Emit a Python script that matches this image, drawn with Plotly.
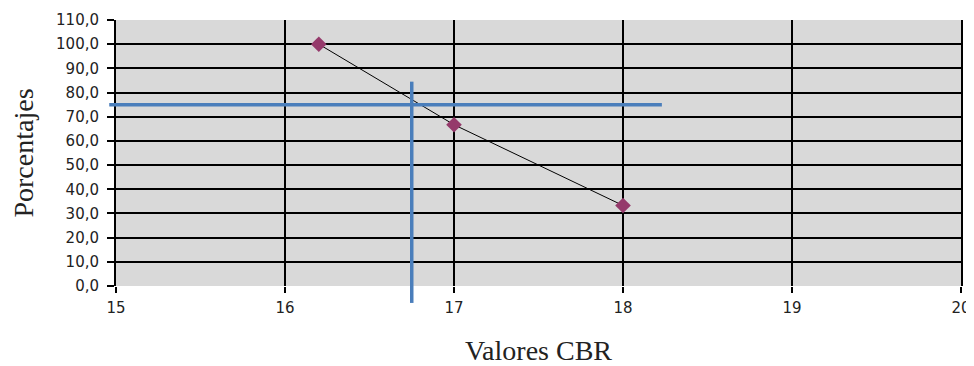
import plotly.graph_objects as go

# Data
cbr_values = [16.2, 17.0, 18.0]
percentages = [100.0, 66.7, 33.3]

# Reference (design) lines
target_pct = 75.0
target_cbr = 16.75
hline_x_extent = [14.96, 18.23]
vline_y_extent = [-7.0, 84.5]

x_range = [15, 20]
y_range = [0, 110]

def px(x):
    return (x - x_range[0]) / (x_range[1] - x_range[0])

def py(y):
    return (y - y_range[0]) / (y_range[1] - y_range[0])

fig = go.Figure()
fig.add_trace(go.Scatter(
    x=cbr_values, y=percentages, mode="lines+markers",
    line=dict(color="black", width=1),
    marker=dict(symbol="diamond", size=12, color="#953a6b"),
    showlegend=False, cliponaxis=False,
))

blue = "#4a7ebb"
fig.add_shape(type="line", xref="paper", yref="paper",
              x0=px(hline_x_extent[0]), x1=px(hline_x_extent[1]),
              y0=py(target_pct), y1=py(target_pct),
              line=dict(color=blue, width=3.5), layer="above")
fig.add_shape(type="line", xref="paper", yref="paper",
              x0=px(target_cbr), x1=px(target_cbr),
              y0=py(vline_y_extent[0]), y1=py(vline_y_extent[1]),
              line=dict(color=blue, width=3.5), layer="above")

tick_font = dict(family="DejaVu Sans", size=15, color="#222")
title_font = dict(family="Liberation Serif", size=28, color="#222")

# The page body adds an 8px margin, so the figure is sized to fit the window.
fig.update_layout(
    width=966, height=358,
    margin=dict(l=108, r=13, t=12, b=80),
    paper_bgcolor="white", plot_bgcolor="#d9d9d9",
    separators=",.",
    xaxis=dict(
        range=x_range, dtick=1, tick0=15,
        showgrid=True, gridcolor="black", gridwidth=2,
        ticks="outside", ticklen=6, tickwidth=2, tickcolor="black",
        showline=False, zeroline=False, automargin=False,
        tickfont=tick_font, ticklabelstandoff=2,
        title=dict(text="Valores CBR", font=title_font, standoff=30),
    ),
    yaxis=dict(
        range=y_range, dtick=10, tick0=0, tickformat=".1f",
        showgrid=True, gridcolor="black", gridwidth=2,
        ticks="outside", ticklen=7, tickwidth=2, tickcolor="black",
        showline=True, linecolor="black", linewidth=2, mirror=True,
        zeroline=False, automargin=False,
        tickfont=tick_font, ticklabelstandoff=5,
        title=dict(text="Porcentajes", font=title_font, standoff=14),
    ),
)

fig.write_html("out.html")
